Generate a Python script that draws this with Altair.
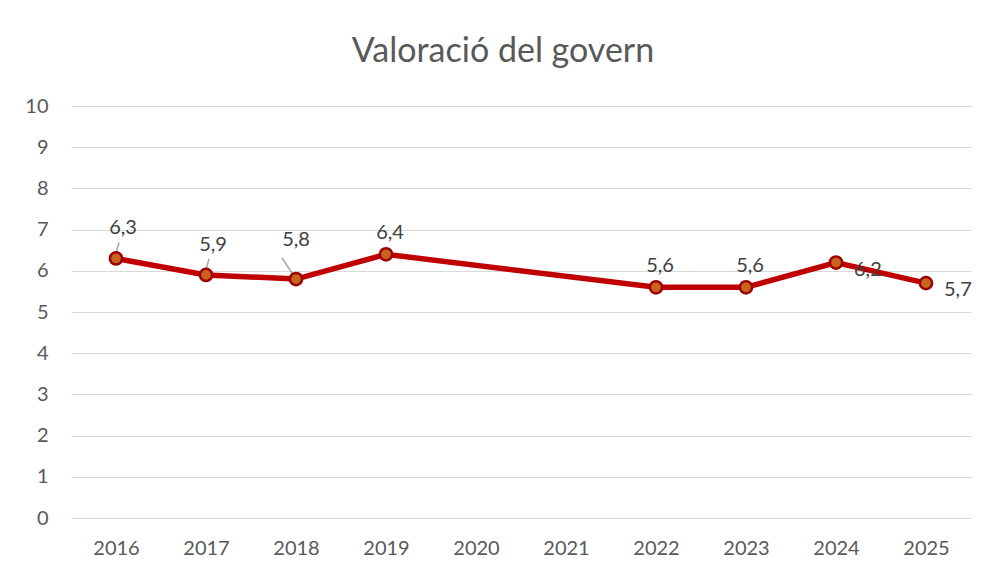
import altair as alt
import pandas as pd

years = ["2016", "2017", "2018", "2019", "2020", "2021", "2022", "2023", "2024", "2025"]
values = [6.3, 5.9, 5.8, 6.4, None, None, 5.6, 5.6, 6.2, 5.7]
labels = ["6,3", "5,9", "5,8", "6,4", "", "", "5,6", "5,6", "6,2", "5,7"]
label_pos = ["leaderA", "leaderA", "leaderB", "above", "", "", "above", "above", "right", "right"]
y_ticks = list(range(0, 11))

df = pd.DataFrame({"year": years, "value": values, "label": labels, "pos": label_pos})
pts = df.dropna(subset=["value"])

FONT = "Lato"
GREY = "#595959"
FS = 20

x = alt.X("year:N", scale=alt.Scale(domain=years, type="point", padding=0.5),
          axis=alt.Axis(title=None, labelAngle=0, ticks=False, labelPadding=20,
                        labelFontSize=FS, labelColor=GREY, labelFont=FONT,
                        domainColor="#d9d9d9", domainWidth=1, grid=False))
y = alt.Y("value:Q", scale=alt.Scale(domain=[0, 10], nice=False),
          axis=alt.Axis(title=None, values=y_ticks, ticks=False, domain=False,
                        labelPadding=23, labelFontSize=FS, labelColor=GREY, labelFont=FONT,
                        gridColor="#d9d9d9", gridWidth=1))

base = alt.Chart(pts)

line = base.mark_line(color="#C00000", strokeWidth=5.5).encode(x=x, y=y)

leaderA = base.transform_filter(alt.datum.pos == "leaderA").mark_rule(
    color="#a6a6a6", strokeWidth=1.5, yOffset=-5, y2Offset=-16, x2Offset=3
).encode(x=x, y=y, x2="year:N", y2="value:Q")
leaderB = base.transform_filter(alt.datum.pos == "leaderB").mark_rule(
    color="#a6a6a6", strokeWidth=1.5, y2Offset=-21, x2Offset=-14
).encode(x=x, y=y, x2="year:N", y2="value:Q")

points = base.mark_point(shape="circle", filled=True, size=150, fill="#C8641E",
                         stroke="#9E0000", strokeWidth=2.5, opacity=1).encode(x=x, y=y)

def txt(pos, dx, dy, align="center"):
    return base.transform_filter(alt.datum.pos == pos).mark_text(
        font=FONT, fontSize=FS, color="#404040", dx=dx, dy=dy, align=align, baseline="middle"
    ).encode(x=x, y=y, text="label:N")

texts = [txt("leaderA", 7, -30), txt("leaderB", 0, -39), txt("above", 4, -21),
         txt("right", 18, 7, "left")]

chart = alt.layer(line, leaderA, leaderB, points, *texts).properties(
    width=900, height=412,
    title=alt.TitleParams("Valoració del govern", font=FONT, fontSize=34, fontWeight="normal",
                          color=GREY, anchor="middle", offset=27, dx=-18),
    autosize=alt.AutoSizeParams(type="none"),
    padding={"left": 63, "top": 98, "right": 10, "bottom": 47},
).configure_view(stroke=None)

chart.save("out.html", embed_options={"renderer": "svg", "actions": False})
